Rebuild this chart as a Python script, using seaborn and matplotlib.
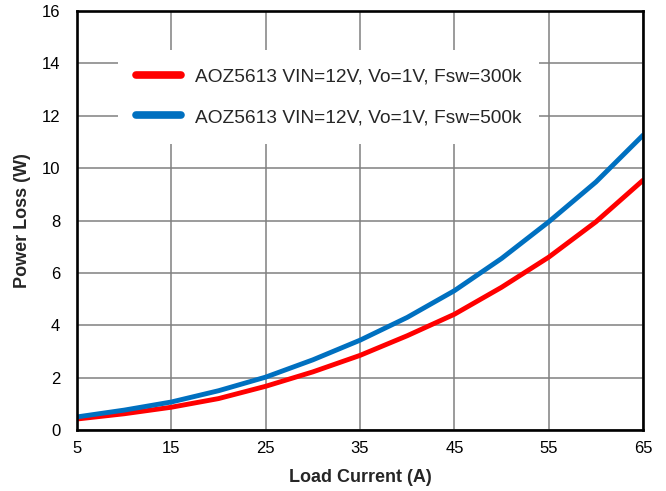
import pandas as pd
import matplotlib
matplotlib.use("Agg")
import matplotlib.pyplot as plt
import seaborn as sns

# Data
load_current = [5, 10, 15, 20, 25, 30, 35, 40, 45, 50, 55, 60, 65]
loss_300k = [0.42, 0.62, 0.87, 1.20, 1.67, 2.22, 2.85, 3.60, 4.42, 5.45, 6.60, 7.95, 9.54]
loss_500k = [0.50, 0.76, 1.07, 1.50, 2.02, 2.68, 3.43, 4.30, 5.32, 6.55, 7.95, 9.47, 11.26]
labels = ['AOZ5613 VIN=12V, Vo=1V, Fsw=300k', 'AOZ5613 VIN=12V, Vo=1V, Fsw=500k']
colors = ['#FF0000', '#0070C0']
x_ticks = [5, 15, 25, 35, 45, 55, 65]
y_ticks = [0, 2, 4, 6, 8, 10, 12, 14, 16]

df = pd.DataFrame({
    'Load Current': load_current * 2,
    'Power Loss': loss_300k + loss_500k,
    'Series': [labels[0]] * len(load_current) + [labels[1]] * len(load_current),
})

sns.set_style('white')
plt.rcParams['font.family'] = ['Liberation Sans', 'DejaVu Sans']

fig = plt.figure(figsize=(6.66, 4.91), dpi=100)
ax = fig.add_axes([0.1156, 0.1242, 0.85, 0.8534])

sns.lineplot(data=df, x='Load Current', y='Power Loss', hue='Series',
             palette=colors, linewidth=3.5, ax=ax, legend=False)

ax.set_xlim(5, 65)
ax.set_ylim(0, 16)
ax.set_xticks(x_ticks)
ax.set_yticks(y_ticks)
ax.grid(True, color='#808080', linewidth=1.1)
ax.set_axisbelow(True)
for s in ax.spines.values():
    s.set_color('black')
    s.set_linewidth(1.9)
ax.tick_params(axis='both', length=0, labelsize=12, colors='black')
ax.tick_params(axis='y', pad=12)
ax.tick_params(axis='x', pad=8)

ax.set_xlabel('Load Current (A)', fontsize=13, fontweight='bold', labelpad=9)
ax.set_ylabel('Power Loss (W)', fontsize=13, fontweight='bold', labelpad=8)

handles = [plt.Line2D([], [], color=c, linewidth=5.5, solid_capstyle='round') for c in colors]
leg = ax.legend(handles, labels, loc='upper left', bbox_to_anchor=(0.0724, 0.907),
                borderaxespad=0, fontsize=13.8, frameon=True, fancybox=False,
                handlelength=2.35, handletextpad=0.7, labelspacing=1.2, borderpad=0.95)
leg.get_frame().set_facecolor('white')
leg.get_frame().set_edgecolor('none')
leg.get_frame().set_alpha(1)

fig.savefig('out.png', dpi=100)
